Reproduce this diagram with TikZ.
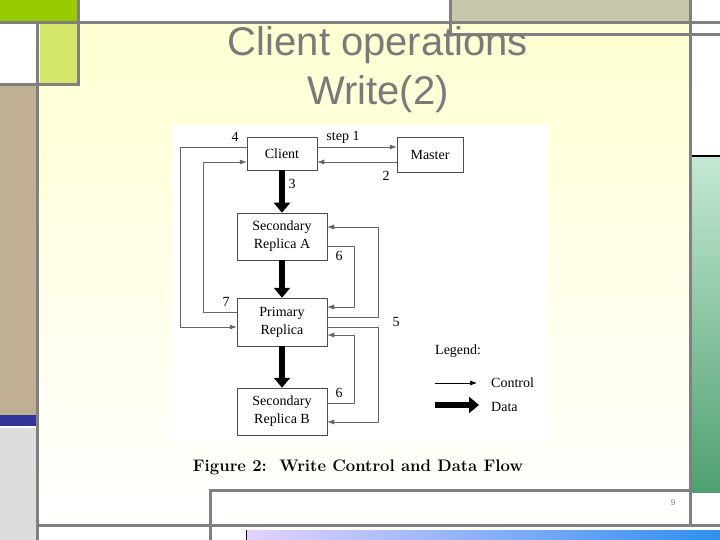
\documentclass[tikz,border=0pt]{standalone}
\usepackage{fontspec}
\setmainfont{Liberation Serif}
\newfontfamily\sansf{Liberation Sans}
\newfontfamily\cmr{Latin Modern Roman}
\usetikzlibrary{arrows.meta}
\definecolor{sgray}{HTML}{808080}
\definecolor{tgray}{HTML}{7A7A7A}
\definecolor{sgreen}{HTML}{99CC00}
\definecolor{lgreen}{HTML}{D4E66A}
\definecolor{beige}{HTML}{C8C6A8}
\definecolor{tan}{HTML}{BFAF94}
\definecolor{sblue}{HTML}{333399}
\definecolor{lgray}{HTML}{DDDDDD}
\definecolor{byel}{HTML}{FFFFD2}
\definecolor{lav}{HTML}{E4D2FF}
\definecolor{bblue}{HTML}{2F8FF0}
\definecolor{mgreen}{HTML}{C4E8D4}
\definecolor{dgreen}{HTML}{4FA070}
\begin{document}
\begin{tikzpicture}[x=1pt,y=-1pt,
  box/.style={draw=black!70,line width=0.5pt,fill=white,align=center,font=\fontsize{14}{18}\selectfont,inner sep=0pt},
  ctl/.style={draw=black!60,line width=0.6pt,-{Latex[length=7pt,width=5pt]}},
  dat/.style={line width=5.5pt,-{Triangle[width=16pt,length=10pt]}},
  lab/.style={font=\fontsize{14}{16}\selectfont,inner sep=0pt},
  bar/.style={draw=sgray,line width=3pt}]
\useasboundingbox (0,0) rectangle (720,540);
\fill[white] (0,0) rectangle (720,540);
% background
\shade[top color=byel,bottom color=white] (38,23) rectangle (690,525);
% left column
\fill[sgreen] (0,0) rectangle (78,23);
\fill[lgreen] (40,23) rectangle (78,85);
\fill[tan] (0,85) rectangle (36,415);
\fill[sblue] (0,415) rectangle (36,426);
\fill[lgray] (0,428) rectangle (36,540);
% top right
\fill[beige] (450,0) rectangle (690,23);
% right column
\shade[top color=mgreen,bottom color=dgreen] (692,157) rectangle (720,492);
\draw[black,line width=2pt] (690,156) -- (720,156);
% bottom gradient
\shade[left color=lav,right color=bblue] (246,530) rectangle (720,540);
% gray lines
\draw[bar] (0,23) -- (720,23);
\draw[bar] (450,0) -- (450,35) -- (720,35);
\draw[bar] (37,23) -- (37,540);
\draw[bar] (78,0) -- (78,85) -- (0,85);
\draw[bar] (690,0) -- (690,525);
\draw[bar] (38,525) -- (720,525);
\draw[bar] (210,540) -- (210,490) -- (690,490);
\draw[black,line width=0.6pt] (246,530) -- (246,540);
\node[font=\sansf\fontsize{8}{9}\selectfont,text=sgray] (pg) at (673,503) {9};
% title
\node[font=\sansf\fontsize{40}{44}\selectfont,text=tgray] (t1) at (378,45) {Client operations};
\node[font=\sansf\fontsize{40}{44}\selectfont,text=tgray] (t2) at (378,94) {Write(2)};
% figure panel
\fill[white] (172,125) rectangle (548,440);
\node[box,minimum width=70pt,minimum height=33pt] (cl) at (282,153.5) {Client};
\node[box,minimum width=66pt,minimum height=35pt] (ma) at (430,154.5) {Master};
\node[box,minimum width=90pt,minimum height=47pt] (sa) at (282,236.5) {Secondary\\Replica A};
\node[box,minimum width=90pt,minimum height=48pt] (pr) at (282,322) {Primary\\Replica};
\node[box,minimum width=90pt,minimum height=47pt] (sb) at (282,411.5) {Secondary\\Replica B};
% data
\draw[dat] (cl.south) -- (sa.north);
\draw[dat] (sa.south) -- (pr.north);
\draw[dat] (pr.south) -- (sb.north);
% control
\draw[ctl] (cl.east |- 0,147) -- (ma.west |- 0,147);
\draw[ctl] (ma.west |- 0,162) -- (cl.east |- 0,162);
\draw[ctl] (cl.west |- 0,147) -- (180,147) -- (180,327) -- (pr.west |- 0,327);
\draw[ctl] (pr.west |- 0,312) -- (203,312) -- (203,162) -- (cl.west |- 0,162);
\draw[ctl] (pr.east |- 0,317) -- (378,317) -- (378,227) -- (sa.east |- 0,227);
\draw[ctl] (pr.east |- 0,327) -- (378,327) -- (378,422) -- (sb.east |- 0,422);
\draw[ctl] (sa.east |- 0,246) -- (354,246) -- (354,307) -- (pr.east |- 0,307);
\draw[ctl] (sb.east |- 0,403) -- (354,403) -- (354,335) -- (pr.east |- 0,335);
\node[lab] (l1) at (343,137) {step 1};
\node[lab] (l2) at (386,176) {2};
\node[lab] (l3) at (292,184) {3};
\node[lab] (l4) at (235,137) {4};
\node[lab] (l5) at (396,322) {5};
\node[lab] (l6a) at (339,256) {6};
\node[lab] (l6b) at (339,393) {6};
\node[lab] (l7) at (226,302) {7};
% legend
\node[lab,anchor=west] (lg) at (435,351) {Legend:};
\coordinate (c1) at (435,383); \coordinate (c2) at (477,383);
\draw[ctl,draw=black] (c1) -- (c2);
\node[lab,anchor=west] (lc) at (491,383) {Control};
\coordinate (d1) at (435,405); \coordinate (d2) at (479,405);
\draw[dat] (d1) -- (d2);
\node[lab,anchor=west] (ld) at (491,407) {Data};
\node[font=\cmr\bfseries\fontsize{16.7}{18}\selectfont] (cap) at (358,467) {Figure 2:\ \ Write Control and Data Flow};
\end{tikzpicture}
\end{document}
